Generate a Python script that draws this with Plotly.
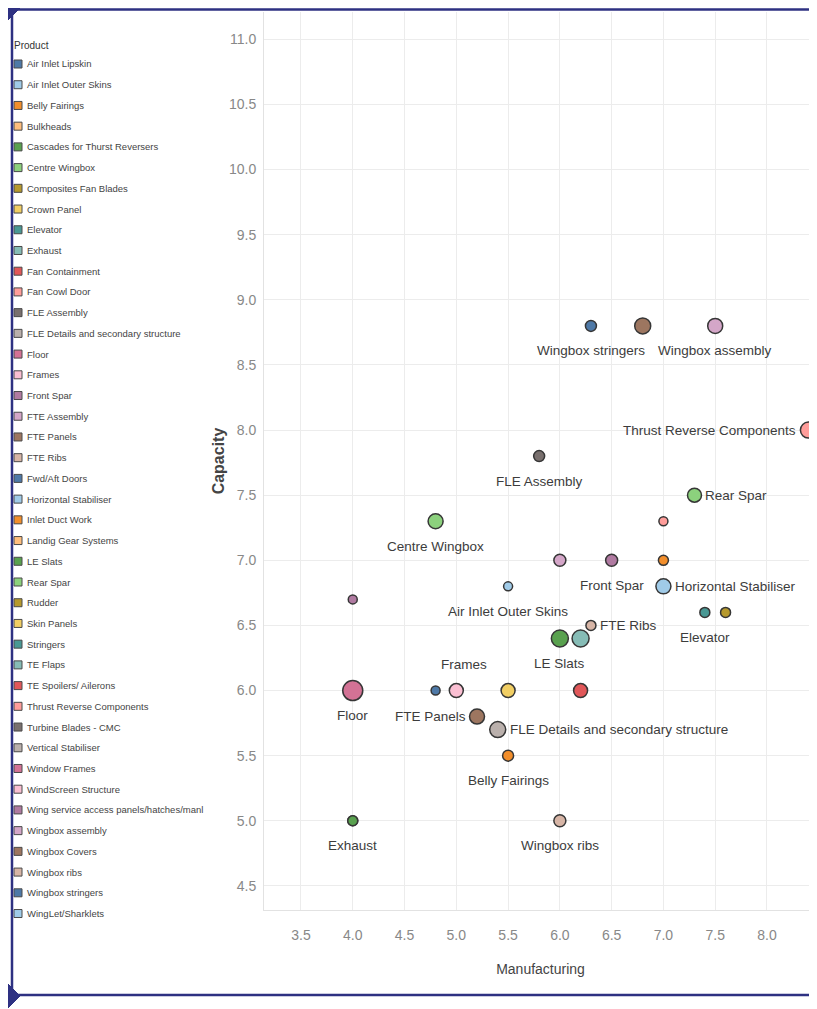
import plotly.graph_objects as go

# ---------------- data ----------------
products = [
    "Air Inlet Lipskin", "Air Inlet Outer Skins", "Belly Fairings", "Bulkheads",
    "Cascades for Thurst Reversers", "Centre Wingbox", "Composites Fan Blades",
    "Crown Panel", "Elevator", "Exhaust", "Fan Containment", "Fan Cowl Door",
    "FLE Assembly", "FLE Details and secondary structure", "Floor", "Frames",
    "Front Spar", "FTE Assembly", "FTE Panels", "FTE Ribs", "Fwd/Aft Doors",
    "Horizontal Stabiliser", "Inlet Duct Work", "Landig Gear Systems", "LE Slats",
    "Rear Spar", "Rudder", "Skin Panels", "Stringers", "TE Flaps",
    "TE Spoilers/ Ailerons", "Thrust Reverse Components", "Turbine Blades - CMC",
    "Vertical Stabiliser", "Window Frames", "WindScreen Structure",
    "Wing service access panels/hatches/manl", "Wingbox assembly", "Wingbox Covers",
    "Wingbox ribs", "Wingbox stringers", "WingLet/Sharklets",
]

point_names = [
    "Wingbox stringers", "Wingbox Covers", "Wingbox assembly", "Thrust Reverse Components",
    "FLE Assembly", "Rear Spar", "Fan Cowl Door", "Centre Wingbox", "FTE Assembly",
    "Front Spar", "Inlet Duct Work", "Horizontal Stabiliser", "Air Inlet Outer Skins",
    "Wing service access panels/hatches/manl", "Elevator", "Rudder", "FTE Ribs",
    "LE Slats", "TE Flaps", "Frames", "Floor", "Fwd/Aft Doors", "Skin Panels",
    "TE Spoilers/ Ailerons", "FTE Panels", "FLE Details and secondary structure",
    "Belly Fairings", "Exhaust", "Cascades for Thurst Reversers", "Wingbox ribs",
]
manufacturing = [6.3, 6.8, 7.5, 8.4, 5.8, 7.3, 7.0, 4.8, 6.0, 6.5, 7.0, 7.0, 5.5, 4.0, 7.4,
                 7.6, 6.3, 6.0, 6.2, 5.0, 4.0, 4.8, 5.5, 6.2, 5.2, 5.4, 5.5, 4.0, 4.0, 6.0]
capacity = [8.8, 8.8, 8.8, 8.0, 7.8, 7.5, 7.3, 7.3, 7.0, 7.0, 7.0, 6.8, 6.8, 6.7, 6.6,
            6.6, 6.5, 6.4, 6.4, 6.0, 6.0, 6.0, 6.0, 6.0, 5.8, 5.7, 5.5, 5.0, 5.0, 5.0]
volume = [11, 16, 15, 16, 11, 14, 9, 15, 12, 12, 10, 15, 9, 9, 10,
          10, 10, 17, 17, 14, 20, 9, 14, 14, 15, 16, 11, 10, 10, 12]
label_side = ["below", None, "below", "left", "below", "right", None, "below", None,
              "below", None, "right", "below", None, "below", None, "right", "below",
              None, "above", "below", None, None, None, "left", "right", "below",
              "below", None, "below"]

x_ticks = [3.5, 4.0, 4.5, 5.0, 5.5, 6.0, 6.5, 7.0, 7.5, 8.0]
y_ticks = [4.5, 5.0, 5.5, 6.0, 6.5, 7.0, 7.5, 8.0, 8.5, 9.0, 9.5, 10.0, 10.5, 11.0]

# ---------------- styling ----------------
palette = ["#4E79A7", "#A0CBE8", "#F28E2B", "#FFBE7D", "#59A14F", "#8CD17D", "#B6992D",
           "#F1CE63", "#499894", "#86BCB6", "#E15759", "#FF9D9A", "#79706E", "#BAB0AC",
           "#D37295", "#FABFD2", "#B07AA1", "#D4A6C8", "#9D7660", "#D7B5A6"]
color_of = {p: palette[i % len(palette)] for i, p in enumerate(products)}

FONT = "Liberation Sans, Arial, sans-serif"
OFF = 8                                  # page body margin
W, H = 817 - OFF, 1009 - OFF
L, R, T, B = 264 - OFF, 817 - OFF, 12 - OFF, 910 - OFF   # plot area (figure pixels)
NAVY = "#2e3182"


def px(rx):
    """reference-picture x pixel -> paper coordinate"""
    return ((rx - OFF) - L) / (R - L)


def py(ry):
    """reference-picture y pixel -> paper coordinate"""
    return (B - (ry - OFF)) / (B - T)


fig = go.Figure()

# data marks
for n, xv, yv, s in zip(point_names, manufacturing, capacity, volume):
    fig.add_trace(go.Scatter(
        x=[xv], y=[yv], mode="markers", name=n, showlegend=False,
        marker=dict(size=s, color=color_of[n], line=dict(color="#363636", width=1.5)),
        hovertemplate=n + "<br>Manufacturing: %{x}<br>Capacity: %{y}<extra></extra>",
    ))

annotations = []
shapes = []

# mark labels
for n, xv, yv, s, side in zip(point_names, manufacturing, capacity, volume, label_side):
    if side is None:
        continue
    a = dict(x=xv, y=yv, xref="x", yref="y", text=n, showarrow=False,
             font=dict(family=FONT, size=13.5, color="#3c3c3c"))
    if side == "below":
        a.update(xanchor="center", yanchor="middle", yshift=-25)
    elif side == "above":
        a.update(xanchor="center", yanchor="middle", yshift=26, xshift=8)
    elif side == "right":
        a.update(xanchor="left", yanchor="middle", xshift=s / 2 + 2)
    elif side == "left":
        a.update(xanchor="right", yanchor="middle", xshift=-(s / 2 + 2))
    annotations.append(a)

# colour legend (Tableau style: small squares, compact rows)
LEG_TOP, LEG_STEP = 64.0, 20.72
annotations.append(dict(x=px(12), y=py(45), xref="paper", yref="paper", text="Product",
                        showarrow=False, xanchor="left", yanchor="middle",
                        font=dict(family=FONT, size=10, color="#333333")))
for i, p in enumerate(products):
    yc = LEG_TOP + i * LEG_STEP
    shapes.append(dict(type="rect", xref="paper", yref="paper",
                       x0=px(14), x1=px(22), y0=py(yc - 4), y1=py(yc + 4),
                       fillcolor=color_of[p], line=dict(color="#4a4a4a", width=1)))
    annotations.append(dict(x=px(25), y=py(yc), xref="paper", yref="paper", text=p,
                            showarrow=False, xanchor="left", yanchor="middle",
                            font=dict(family=FONT, size=9.5, color="#444444")))

# outer frame (decoration)
shapes += [
    dict(type="line", xref="paper", yref="paper", x0=px(12), x1=px(820), y0=py(9.5), y1=py(9.5),
         line=dict(color=NAVY, width=2.5)),
    dict(type="line", xref="paper", yref="paper", x0=px(12), x1=px(820), y0=py(995), y1=py(995),
         line=dict(color=NAVY, width=2.5)),
    dict(type="line", xref="paper", yref="paper", x0=px(12), x1=px(12), y0=py(9.5), y1=py(995),
         line=dict(color=NAVY, width=2.5)),
    dict(type="path", xref="paper", yref="paper",
         path=f"M {px(8)} {py(8)} L {px(20)} {py(8)} L {px(8)} {py(20)} Z",
         fillcolor=NAVY, line=dict(color=NAVY, width=1)),
    dict(type="path", xref="paper", yref="paper",
         path=f"M {px(8)} {py(1008)} L {px(20)} {py(996)} L {px(8)} {py(984)} Z",
         fillcolor=NAVY, line=dict(color=NAVY, width=1)),
]

fig.update_layout(
    width=W, height=H,
    margin=dict(l=L, r=W - R, t=T, b=H - B, autoexpand=False),
    paper_bgcolor="white", plot_bgcolor="white",
    font=dict(family=FONT, size=11, color="#333333"),
    showlegend=False,
    xaxis=dict(
        range=[3.143, 8.483], tickvals=x_ticks, ticktext=[f"{v:.1f}" for v in x_ticks],
        showgrid=True, gridcolor="#ececec", gridwidth=1, zeroline=False,
        showline=True, linecolor="#e2e2e2", linewidth=1, mirror=False,
        tickfont=dict(family=FONT, size=14, color="#888888"), ticklabelstandoff=12,
        title=dict(text="Manufacturing", font=dict(family=FONT, size=14, color="#444444"),
                   standoff=22),
    ),
    yaxis=dict(
        range=[4.315, 11.21], tickvals=y_ticks, ticktext=[f"{v:.1f}" for v in y_ticks],
        showgrid=True, gridcolor="#ececec", gridwidth=1, zeroline=False,
        showline=True, linecolor="#e2e2e2", linewidth=1,
        tickfont=dict(family=FONT, size=14, color="#888888"), ticklabelstandoff=4,
        title=dict(text="<b>Capacity</b>", font=dict(family=FONT, size=16, color="#444444"),
                   standoff=0),
    ),
    annotations=annotations,
    shapes=shapes,
)

fig.write_html("out.html")
